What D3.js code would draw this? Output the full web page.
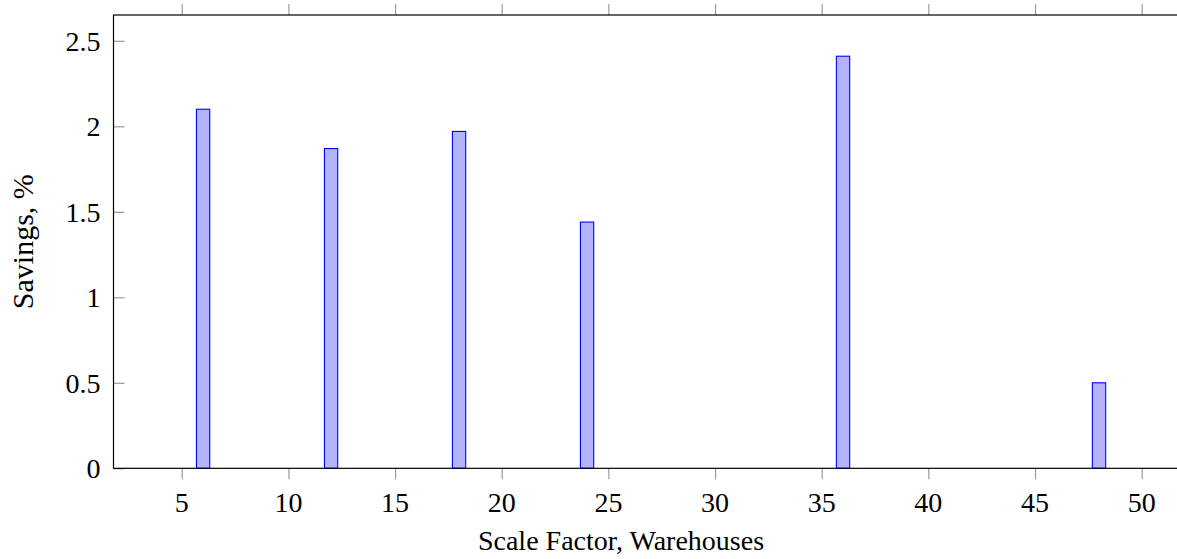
<!DOCTYPE html>
<html>
<head>
<meta charset="utf-8">
<script src="https://cdn.jsdelivr.net/npm/d3@7/dist/d3.min.js"></script>
<style>
  html, body { margin: 0; padding: 0; background: #fff; }
  svg { display: block; }
  text { font-family: "Liberation Serif", "DejaVu Serif", serif; fill: #000; }
</style>
</head>
<body>
<svg id="chart" width="1177" height="559"></svg>
<script>
// Savings per warehouse scale factor
const warehouses = [6, 12, 18, 24, 36, 48];
const savings = [2.10, 1.87, 1.97, 1.44, 2.41, 0.50];
const xTicks = [5, 10, 15, 20, 25, 30, 35, 40, 45, 50];
const yTicks = [0, 0.5, 1, 1.5, 2, 2.5];
const xTitle = "Scale Factor, Warehouses";
const yTitle = "Savings, %";

const W = 1177, H = 559;
const plot = { left: 113.5, right: 1188.6, top: 15, bottom: 468.3 };
const fontSize = 28;

const svg = d3.select("#chart");

// x range padded by 10% of the data span on each side
const span = d3.max(warehouses) - d3.min(warehouses);
const x = d3.scaleLinear()
  .domain([d3.min(warehouses) - 0.1 * span, d3.max(warehouses) + 0.1 * span])
  .range([plot.left, plot.right]);
const y = d3.scaleLinear()
  .domain([0, d3.max(savings) * 1.1])
  .range([plot.bottom, plot.top]);

const barW = 13.3;
const tickLen = 11;
const tickColor = "#9a9a9a";

// bars
svg.append("g")
  .selectAll("rect")
  .data(warehouses)
  .join("rect")
  .attr("x", (d) => x(d) - barW / 2)
  .attr("y", (d, i) => y(savings[i]))
  .attr("width", barW)
  .attr("height", (d, i) => y(0) - y(savings[i]))
  .attr("fill", "#b3b3ff")
  .attr("stroke", "#0000ff")
  .attr("stroke-width", 1.1);

// bottom axis: ticks point outward
const xAxisBottom = d3.axisBottom(x).tickValues(xTicks).tickSize(tickLen).tickFormat("");
const gxb = svg.append("g").attr("transform", `translate(0,${plot.bottom})`).call(xAxisBottom);
gxb.select(".domain").remove();
gxb.selectAll(".tick line").attr("stroke", tickColor).attr("stroke-width", 1.2);

// bottom tick labels
svg.append("g")
  .selectAll("text")
  .data(xTicks)
  .join("text")
  .attr("x", (d) => x(d))
  .attr("y", 512)
  .attr("text-anchor", "middle")
  .attr("font-size", fontSize)
  .text((d) => d3.format("d")(d));

// top axis mirrored ticks
const xAxisTop = d3.axisTop(x).tickValues(xTicks).tickSize(tickLen).tickFormat("");
const gxt = svg.append("g").attr("transform", `translate(0,${plot.top})`).call(xAxisTop);
gxt.select(".domain").remove();
gxt.selectAll(".tick line").attr("stroke", tickColor).attr("stroke-width", 1.2);

// left axis: ticks point inward
const yAxisLeft = d3.axisRight(y).tickValues(yTicks).tickSize(tickLen).tickFormat("");
const gyl = svg.append("g").attr("transform", `translate(${plot.left},0)`).call(yAxisLeft);
gyl.select(".domain").remove();
gyl.selectAll(".tick line").attr("stroke", tickColor).attr("stroke-width", 1.2);

// left tick labels
svg.append("g")
  .selectAll("text")
  .data(yTicks)
  .join("text")
  .attr("x", plot.left - 13)
  .attr("y", (d) => y(d))
  .attr("dy", "0.35em")
  .attr("text-anchor", "end")
  .attr("font-size", fontSize)
  .text((d) => d3.format("")(d));

// right axis mirrored ticks
const yAxisRight = d3.axisLeft(y).tickValues(yTicks).tickSize(tickLen).tickFormat("");
const gyr = svg.append("g").attr("transform", `translate(${plot.right},0)`).call(yAxisRight);
gyr.select(".domain").remove();
gyr.selectAll(".tick line").attr("stroke", tickColor).attr("stroke-width", 1.2);

// frame
svg.append("rect")
  .attr("x", plot.left)
  .attr("y", plot.top)
  .attr("width", plot.right - plot.left)
  .attr("height", plot.bottom - plot.top)
  .attr("fill", "none")
  .attr("stroke", "#000")
  .attr("stroke-width", 1.2);

// axis titles
svg.append("text")
  .attr("x", 621)
  .attr("y", 550)
  .attr("text-anchor", "middle")
  .attr("font-size", fontSize)
  .text(xTitle);

svg.append("text")
  .attr("transform", `translate(33,${(plot.top + plot.bottom) / 2}) rotate(-90)`)
  .attr("text-anchor", "middle")
  .attr("font-size", 30)
  .text(yTitle);
</script>
</body>
</html>
